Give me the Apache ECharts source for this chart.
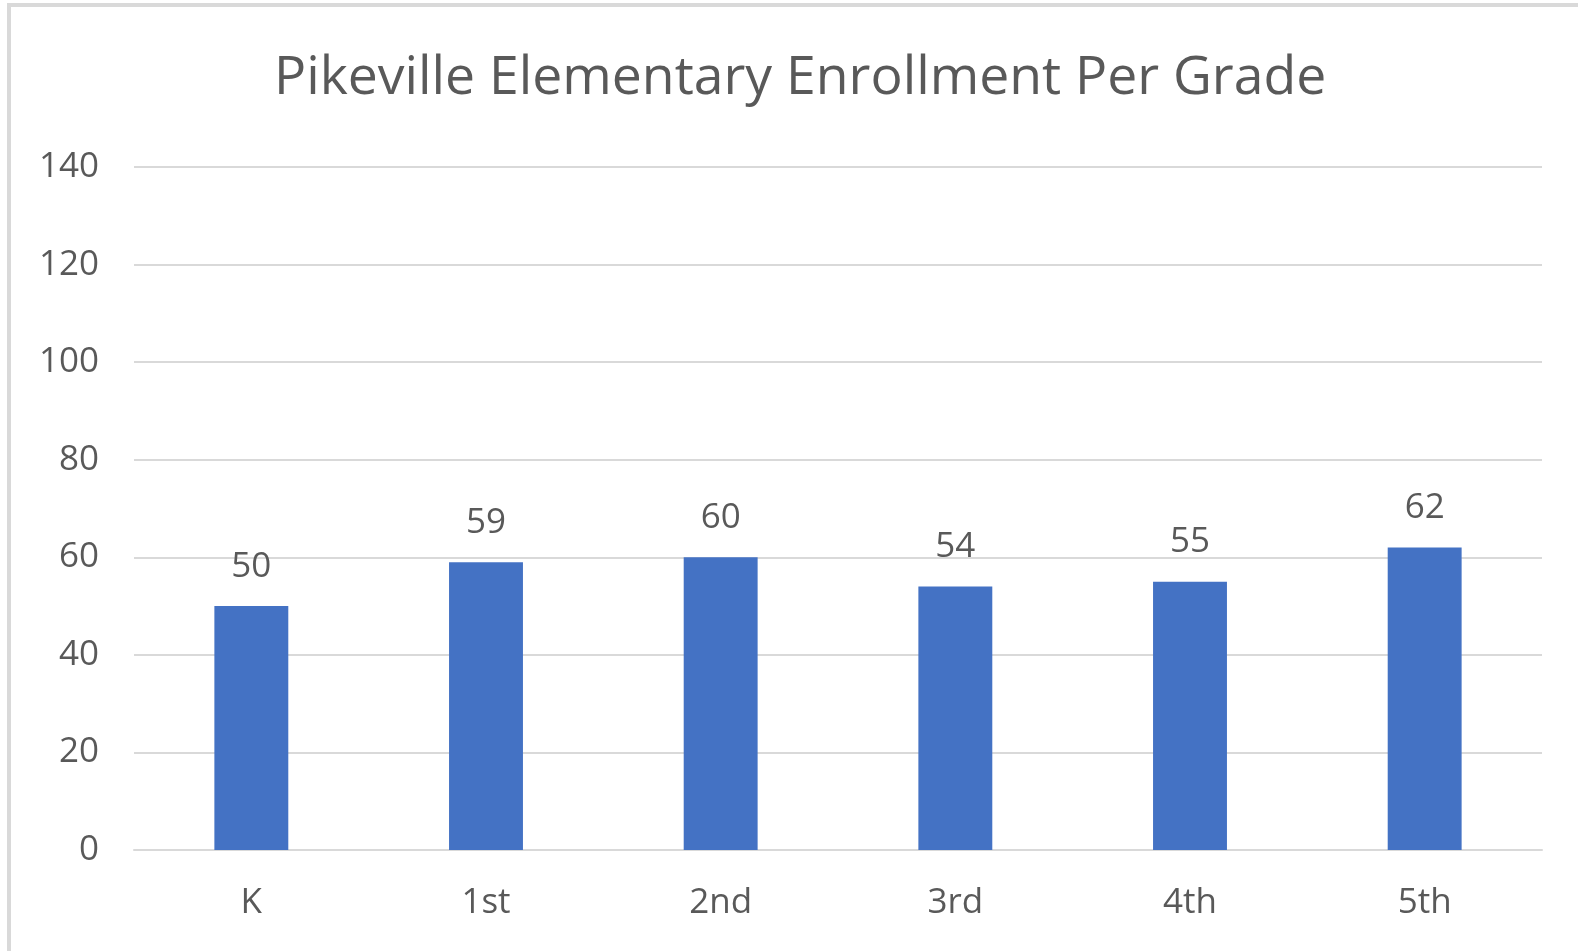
<!DOCTYPE html>
<html>
<head>
<meta charset="utf-8">
<style>
html,body{margin:0;padding:0;background:#fff;}
#chart{width:1578px;height:951px;}
</style>
<script src="https://cdn.jsdelivr.net/npm/echarts@6/dist/echarts.min.js"></script>
</head>
<body>
<div id="chart"></div>
<script>
const titleText = 'Pikeville Elementary Enrollment Per Grade';
const categories = ['K', '1st', '2nd', '3rd', '4th', '5th'];
const enrollment = [50, 59, 60, 54, 55, 62];
const yTicks = { min: 0, max: 140, interval: 20 };

const FONT = '"Open Sans", "Noto Sans", sans-serif';
const chart = echarts.init(document.getElementById('chart'), null, { renderer: 'canvas' });
chart.setOption({
  backgroundColor: '#ffffff',
  animation: false,
  title: {
    text: titleText,
    left: 269,
    top: 47,
    textStyle: { fontFamily: FONT, fontSize: 53.5, fontWeight: 'normal', color: '#595959' }
  },
  graphic: [
    { type: 'rect', shape: { x: 7, y: 3, width: 4, height: 951 }, style: { fill: '#d9d9d9' }, silent: true },
    { type: 'rect', shape: { x: 7, y: 3, width: 1571, height: 4 }, style: { fill: '#d9d9d9' }, silent: true }
  ],
  grid: { left: 134, right: 36, top: 167, bottom: 101, containLabel: false },
  xAxis: {
    type: 'category',
    data: categories,
    axisLine: { show: true, lineStyle: { color: '#d9d9d9', width: 2 } },
    axisTick: { show: false },
    axisLabel: { fontFamily: FONT, fontSize: 35, color: '#595959', margin: 36 }
  },
  yAxis: {
    type: 'value',
    min: yTicks.min, max: yTicks.max, interval: yTicks.interval,
    axisLine: { show: false },
    axisTick: { show: false },
    splitLine: { lineStyle: { color: '#d9d9d9', width: 2 } },
    axisLabel: { fontFamily: FONT, fontSize: 35, color: '#595959', margin: 35 }
  },
  series: [{
    type: 'bar',
    data: enrollment,
    barWidth: '31.5%',
    itemStyle: { color: '#4472C4' },
    label: { show: true, position: 'top', distance: 22, fontFamily: FONT, fontSize: 35, color: '#595959' }
  }]
});
</script>
</body>
</html>
